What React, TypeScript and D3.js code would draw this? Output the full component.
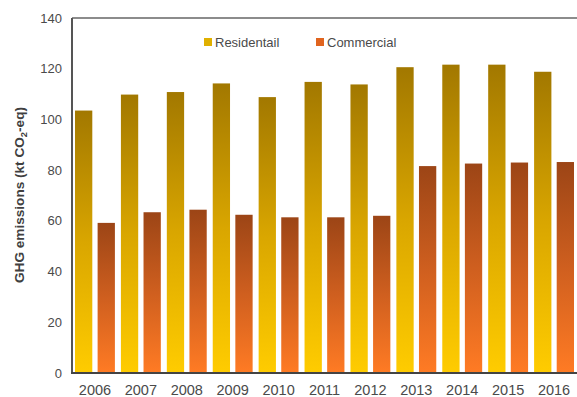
import React from "react";
import * as d3 from "d3";

const years = ["2006", "2007", "2008", "2009", "2010", "2011", "2012", "2013", "2014", "2015", "2016"];
const residential = [103.5, 109.8, 110.8, 114.2, 108.8, 114.8, 113.8, 120.6, 121.6, 121.6, 118.8];
const commercial = [59.2, 63.4, 64.4, 62.4, 61.4, 61.4, 62.0, 81.6, 82.6, 83.0, 83.2];
const yTicks = [0, 20, 40, 60, 80, 100, 120, 140];
const seriesNames = ["Residentail", "Commercial"];

const W = 577;
const H = 397;
const left = 72;
const right = 577;
const top = 18;
const bottom = 373;

export default function App() {
  const x = d3.scaleBand<string>().domain(years).range([left, right]).paddingInner(0).paddingOuter(0);
  const inner = d3.scaleBand<string>().domain(seriesNames).range([0, x.bandwidth()]).paddingInner(0.235).paddingOuter(0.133);
  const y = d3.scaleLinear().domain([0, 140]).range([bottom, top]);
  const font = "'Liberation Sans', Arial, sans-serif";
  const series = [
    { name: seriesNames[0], values: residential, grad: "gRes", swatch: "#e0b000" },
    { name: seriesNames[1], values: commercial, grad: "gCom", swatch: "#e0641e" },
  ];
  return (
    <svg width={W} height={H} style={{ position: "absolute", left: 0, top: 0, background: "#fff" }}>
      <defs>
        <linearGradient id="gRes" x1="0" y1="0" x2="0" y2="1">
          <stop offset="0" stopColor="#a27800" />
          <stop offset="0.5" stopColor="#d9a600" />
          <stop offset="1" stopColor="#ffcc00" />
        </linearGradient>
        <linearGradient id="gCom" x1="0" y1="0" x2="0" y2="1">
          <stop offset="0" stopColor="#9c4516" />
          <stop offset="0.5" stopColor="#cf5f1f" />
          <stop offset="1" stopColor="#ff7b24" />
        </linearGradient>
      </defs>
      <rect x={0} y={0} width={W} height={H} fill="#fff" />
      {series.map((s) =>
        s.values.map((v, i) => (
          <rect
            key={s.name + i}
            x={(x(years[i]) as number) + (inner(s.name) as number)}
            y={y(v)}
            width={inner.bandwidth()}
            height={bottom - y(v)}
            fill={`url(#${s.grad})`}
          />
        ))
      )}
      <line x1={left} x2={right} y1={top} y2={top} stroke="#666" strokeWidth={1.5} />
      <line x1={left} x2={left} y1={top} y2={bottom + 1} stroke="#555" strokeWidth={2} />
      <line x1={left - 1} x2={right} y1={bottom} y2={bottom} stroke="#444" strokeWidth={2} />
      {yTicks.map((t) => (
        <text key={t} x={62} y={y(t)} dy="0.35em" textAnchor="end" fontSize={13} fill="#4a4a4a" fontFamily={font}>
          {t}
        </text>
      ))}
      {years.map((yr) => (
        <text key={yr} x={(x(yr) as number) + x.bandwidth() / 2} y={389.5} dy="0.35em" textAnchor="middle" fontSize={14.5} fill="#4a4a4a" fontFamily={font}>
          {yr}
        </text>
      ))}
      <text transform={`translate(24,${195}) rotate(-90)`} textAnchor="middle" fontSize={13} fontWeight="bold" fill="#404040" fontFamily={font} textLength={176} lengthAdjust="spacingAndGlyphs">
        GHG emissions (kt CO<tspan fontSize={9} dy="3">2</tspan><tspan dy="-3">-eq)</tspan>
      </text>
      {series.map((s, i) => {
        const lx = i === 0 ? 204 : 316;
        return (
          <g key={s.name}>
            <rect x={lx} y={38} width={8} height={8} fill={s.swatch} />
            <text x={lx + 11} y={42} dy="0.35em" fontSize={13} fill="#4a4a4a" fontFamily={font}>
              {s.name}
            </text>
          </g>
        );
      })}
    </svg>
  );
}
